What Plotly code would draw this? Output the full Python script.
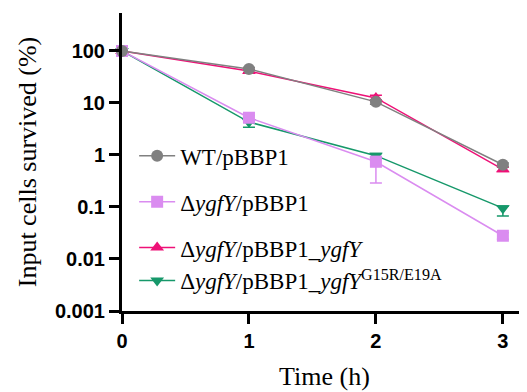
import plotly.graph_objects as go

time_h = [0, 1, 2, 3]

series_names = [
    "WT/pBBP1",
    "Δ<i>ygfY</i>/pBBP1",
    "Δ<i>ygfY</i>/pBBP1_<i>ygfY</i>",
    "Δ<i>ygfY</i>/pBBP1_<i>ygfY</i><sup>G15R/E19A</sup>",
]

wt_vals = [100, 45, 10.5, 0.65]
wt_err_plus = [0, 3, 1.0, 0.05]
wt_err_minus = [0, 3, 1.0, 0.05]

dygfy_vals = [100, 5.2, 0.74, 0.028]
dygfy_err_plus = [0, 0.6, 0.2, 0.004]
dygfy_err_minus = [0, 0.6, 0.45, 0.004]

comp_vals = [100, 41, 12.5, 0.53]
comp_err_plus = [0, 3, 1.5, 0.05]
comp_err_minus = [0, 3, 1.5, 0.05]

mut_vals = [100, 4.3, 0.97, 0.095]
mut_err_plus = [0, 0.4, 0.1, 0.01]
mut_err_minus = [0, 0.9, 0.08, 0.028]

colors = ["#808080", "#DA8CF0", "#EE1177", "#16986A"]
symbols = ["circle", "square", "triangle-up", "triangle-down"]
groups = ["a", "b", "c", "c"]

data = [
    (wt_vals, wt_err_plus, wt_err_minus),
    (dygfy_vals, dygfy_err_plus, dygfy_err_minus),
    (comp_vals, comp_err_plus, comp_err_minus),
    (mut_vals, mut_err_plus, mut_err_minus),
]

ytick_vals = [0.001, 0.01, 0.1, 1, 10, 100]
ytick_text = ["0.001", "0.01", "0.1", "1", "10", "100"]
xtick_vals = [0, 1, 2, 3]

fig = go.Figure()
draw_order = [3, 2, 1, 0]
for i in draw_order:
    vals, ep, em = data[i]
    fig.add_trace(go.Scatter(
        x=time_h, y=vals, name=series_names[i],
        mode="lines+markers",
        line=dict(color=colors[i], width=1.5),
        marker=dict(symbol=symbols[i], size=12, color=colors[i]),
        error_y=dict(type="data", symmetric=False, array=ep, arrayminus=em,
                     color=colors[i], thickness=1.5, width=6),
        cliponaxis=False,
        legendrank=i + 1,
        legendgroup=groups[i],
    ))

# page has 8px body margin, so the figure is drawn 8px smaller and offset
fig.update_layout(
    width=519, height=384,
    margin=dict(l=114, r=0, t=5, b=81),
    paper_bgcolor="white", plot_bgcolor="white",
    showlegend=True,
    legend=dict(
        x=0.03, y=0.593, xanchor="left", yanchor="top",
        font=dict(family="Liberation Serif", size=23, color="black"),
        bgcolor="rgba(0,0,0,0)",
        tracegroupgap=13,
        itemwidth=36,
    ),
    font=dict(family="Liberation Serif", color="black"),
)

fig.update_xaxes(
    range=[0, 3.19], automargin=False,
    tickvals=xtick_vals, ticktext=[str(v) for v in xtick_vals],
    tickfont=dict(family="Liberation Sans", size=20, color="black", weight="bold"),
    ticks="outside", ticklen=10, tickwidth=2.5, tickcolor="black",
    showline=True, linewidth=3, linecolor="black",
    showgrid=False, zeroline=False,
    title=dict(text="Time (h)", font=dict(family="Liberation Serif", size=26, color="black"), standoff=16),
)

fig.update_yaxes(
    type="log", range=[-3, 2.73], automargin=False,
    tickvals=ytick_vals, ticktext=ytick_text,
    tickfont=dict(family="Liberation Sans", size=20, color="black", weight="bold"),
    ticks="outside", ticklen=10, tickwidth=2.5, tickcolor="black",
    showline=True, linewidth=3, linecolor="black",
    showgrid=False, zeroline=False,
    title=dict(text="Input cells survived (%)", font=dict(family="Liberation Serif", size=26, color="black"), standoff=11),
)

fig.write_html("out.html")
